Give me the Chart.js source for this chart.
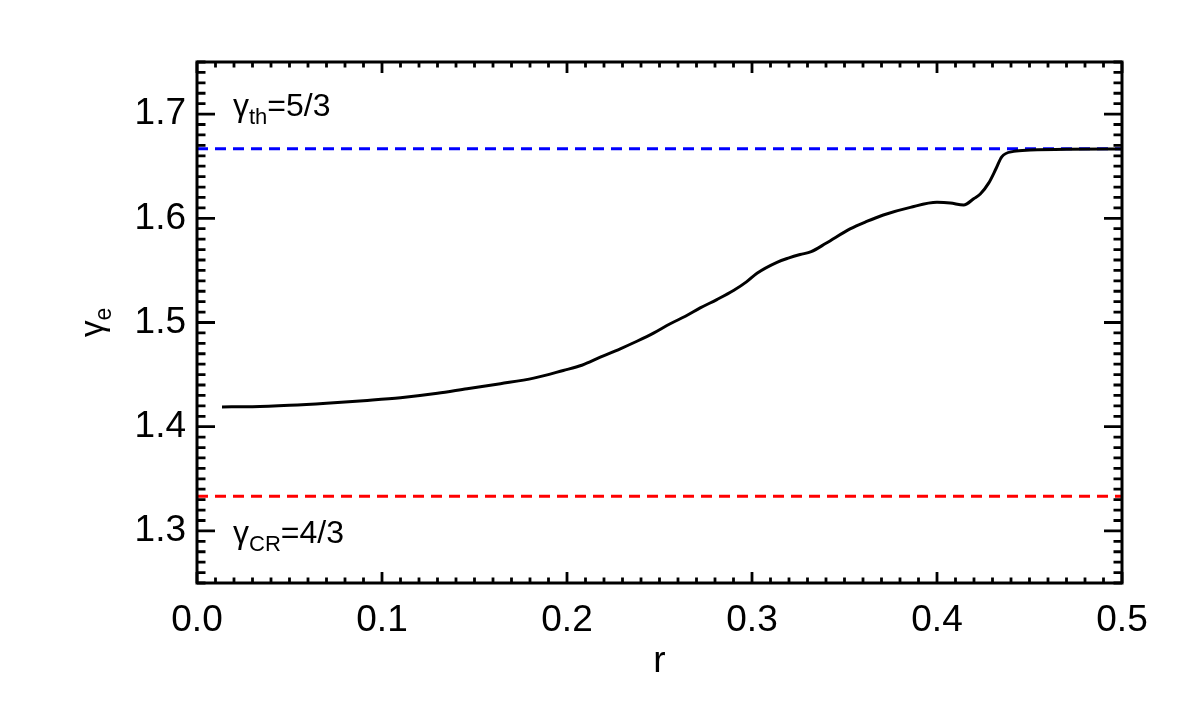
<!DOCTYPE html>
<html>
<head>
<meta charset="utf-8">
<script src="https://cdn.jsdelivr.net/npm/chart.js@4.4.0/dist/chart.umd.min.js"></script>
<style>
  body { margin: 0; background: #fff; }
  #wrap { width: 1180px; height: 709px; }
</style>
</head>
<body>
<div id="wrap"><canvas id="myChart" width="1180" height="709"></canvas></div>
<script>
// radius and effective adiabatic index
const rValues = [0.0135, 0.03, 0.05, 0.07, 0.09, 0.11, 0.13, 0.146, 0.164, 0.182,
                 0.198, 0.208, 0.218, 0.2288, 0.2378, 0.247, 0.2558, 0.264, 0.272, 0.281,
                 0.29, 0.297, 0.3027, 0.3135, 0.32, 0.326, 0.332, 0.34, 0.353, 0.362,
                 0.371, 0.3856, 0.4, 0.4072, 0.4144, 0.42, 0.4234, 0.428, 0.432, 0.435,
                 0.4414, 0.4504, 0.47, 0.5];
const gammaValues = [1.419, 1.4192, 1.4205, 1.4225, 1.425, 1.4278, 1.432, 1.4365, 1.4413, 1.4466,
                     1.454, 1.459, 1.4667, 1.4748, 1.482, 1.49, 1.4988, 1.506, 1.514, 1.522,
                     1.5307, 1.539, 1.5473, 1.5578, 1.562, 1.5652, 1.568, 1.576, 1.5898, 1.597,
                     1.6032, 1.6105, 1.6153, 1.6147, 1.6128, 1.619, 1.6233, 1.634, 1.648, 1.659,
                     1.6642, 1.6655, 1.6663, 1.6665];
const gammaTh = 5/3;
const gammaCR = 4/3;
const xTicks = [0.0, 0.1, 0.2, 0.3, 0.4, 0.5];
const yTicks = [1.3, 1.4, 1.5, 1.6, 1.7];

const FONT = 'Liberation Sans, Arial, Helvetica, sans-serif';

const curve = rValues.map(function(r, i){ return {x: r, y: gammaValues[i]}; });

function drawSub(ctx, x, y, main, sub, rest, size){
    ctx.font = size + 'px ' + FONT;
    ctx.fillText(main, x, y);
    var w = ctx.measureText(main).width;
    var subSize = Math.round(size * 0.7);
    ctx.font = subSize + 'px ' + FONT;
    ctx.fillText(sub, x + w, y + size * 0.25);
    var w2 = ctx.measureText(sub).width;
    ctx.font = size + 'px ' + FONT;
    if(rest) ctx.fillText(rest, x + w + w2, y);
}

const frame = {
    id: 'frame',
    afterDraw: function(chart){
        const ctx = chart.ctx;
        const a = chart.chartArea;
        const xs = chart.scales.x, ys = chart.scales.y;
        ctx.save();
        ctx.strokeStyle = '#000';
        ctx.lineWidth = 3;
        ctx.strokeRect(a.left, a.top, a.right - a.left, a.bottom - a.top);
        ctx.lineWidth = 2.8;
        ctx.beginPath();
        // x ticks, every 0.01, long at 0.1
        for(var i = 0; i <= 50; i++){
            var px = xs.getPixelForValue(i / 100);
            var len = (i % 10 === 0) ? 11 : 5.5;
            ctx.moveTo(px, a.bottom); ctx.lineTo(px, a.bottom - len);
            ctx.moveTo(px, a.top); ctx.lineTo(px, a.top + len);
        }
        // y ticks, every 0.01, long at 0.1
        for(var j = 125; j <= 175; j++){
            var py = ys.getPixelForValue(j / 100);
            var l2 = (j % 10 === 0) ? 18 : 8.5;
            ctx.moveTo(a.left, py); ctx.lineTo(a.left + l2, py);
            ctx.moveTo(a.right, py); ctx.lineTo(a.right - l2, py);
        }
        ctx.stroke();

        ctx.fillStyle = '#000';
        ctx.textBaseline = 'alphabetic';
        ctx.textAlign = 'left';
        drawSub(ctx, a.left + 36, 116, '\u03b3', 'th', '=5/3', 32);
        drawSub(ctx, a.left + 36, 543, '\u03b3', 'CR', '=4/3', 32);

        // axis titles
        ctx.font = '37px ' + FONT;
        ctx.textAlign = 'center';
        ctx.fillText('r', (a.left + a.right) / 2, 672);

        ctx.translate(103, 337);
        ctx.rotate(-Math.PI / 2);
        ctx.textAlign = 'left';
        drawSub(ctx, 0, 0, '\u03b3', 'e', '', 33);
        ctx.restore();
    }
};

new Chart(document.getElementById('myChart'), {
    type: 'scatter',
    data: {
        datasets: [{
            data: curve,
            showLine: true,
            borderColor: '#000',
            borderWidth: 3,
            pointRadius: 0,
            cubicInterpolationMode: 'monotone'
        }, {
            data: [{x: 0, y: gammaTh}, {x: 0.5, y: gammaTh}],
            showLine: true,
            borderColor: '#0000ff',
            borderWidth: 3,
            borderDash: [11, 7],
            pointRadius: 0
        }, {
            data: [{x: 0, y: gammaCR}, {x: 0.5, y: gammaCR}],
            showLine: true,
            borderColor: '#ff0000',
            borderWidth: 3,
            borderDash: [11, 7],
            pointRadius: 0
        }]
    },
    options: {
        responsive: false,
        animation: false,
        layout: { padding: { top: 62, right: 58, left: 0, bottom: 0 } },
        plugins: { legend: { display: false }, tooltip: { enabled: false } },
        scales: {
            x: {
                type: 'linear', min: 0, max: 0.5,
                afterFit: function(s){ s.height = 126; },
                afterBuildTicks: function(s){ s.ticks = xTicks.map(function(v){ return {value: v}; }); },
                grid: { display: false, drawTicks: false },
                border: { display: false },
                ticks: {
                    color: '#000', padding: 16,
                    font: { family: FONT, size: 37 },
                    callback: function(v){ return Number(v).toFixed(1); }
                }
            },
            y: {
                type: 'linear', min: 1.25, max: 1.75,
                afterFit: function(s){ s.width = 197; },
                afterBuildTicks: function(s){ s.ticks = yTicks.map(function(v){ return {value: v}; }); },
                grid: { display: false, drawTicks: false },
                border: { display: false },
                ticks: {
                    color: '#000', padding: 11,
                    font: { family: FONT, size: 37 },
                    callback: function(v){ return Number(v).toFixed(1); }
                }
            }
        }
    },
    plugins: [frame]
});
</script>
</body>
</html>
